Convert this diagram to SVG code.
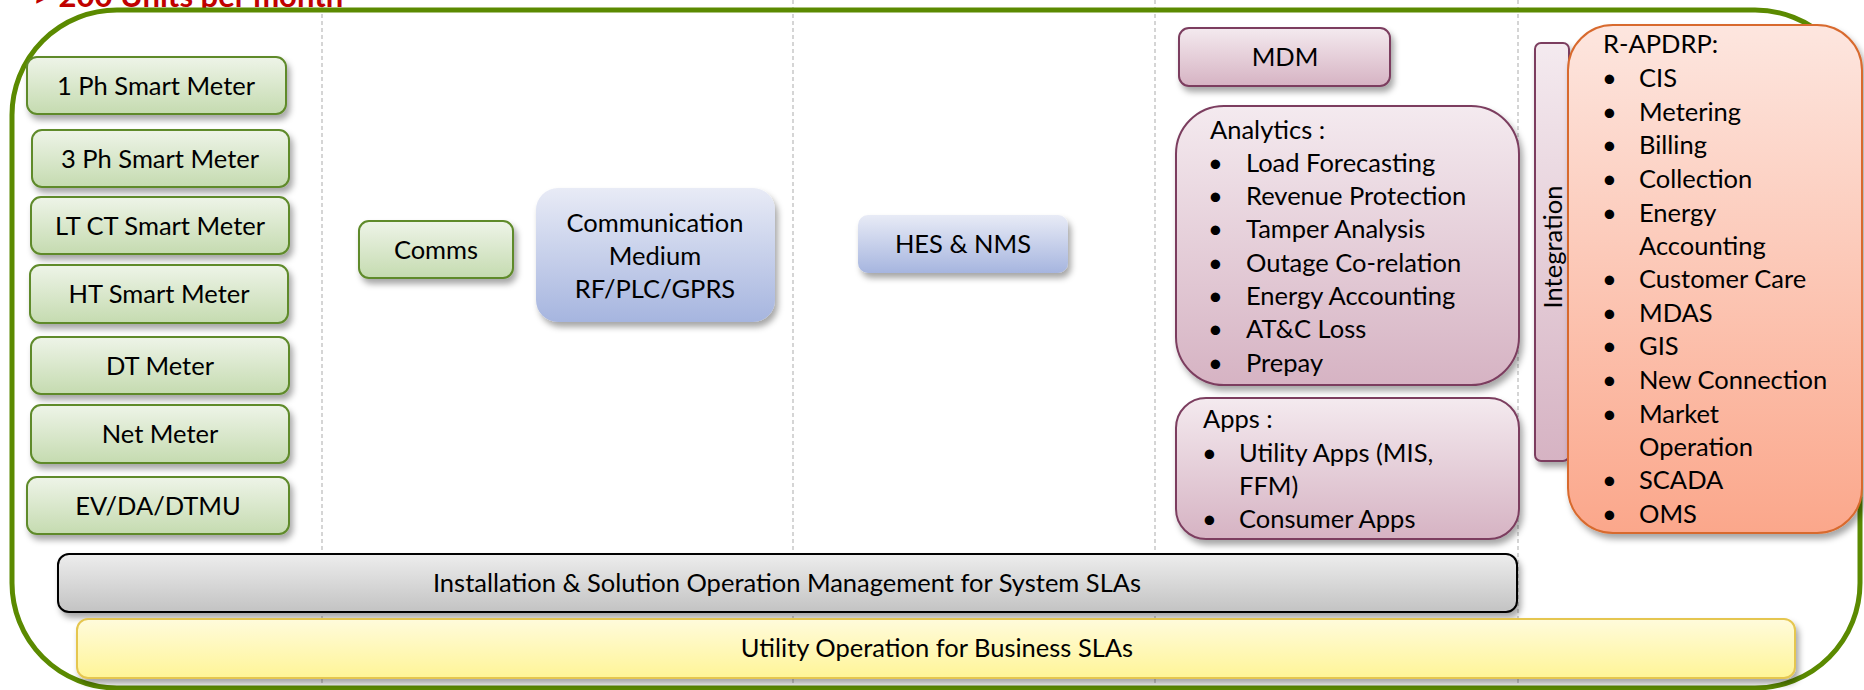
<svg xmlns="http://www.w3.org/2000/svg" width="1864" height="690" viewBox="0 0 1864 690">
<defs>
<linearGradient id="gGreen" x1="0" y1="0" x2="0" y2="1"><stop offset="0" stop-color="#eef4e8"/><stop offset="1" stop-color="#c5dbb0"/></linearGradient>
<linearGradient id="gBlue" x1="0" y1="0" x2="0" y2="1"><stop offset="0" stop-color="#e8ebf6"/><stop offset="1" stop-color="#a6b5df"/></linearGradient>
<linearGradient id="gPurple" x1="0" y1="0" x2="0" y2="1"><stop offset="0" stop-color="#f4eaef"/><stop offset="1" stop-color="#d6b3c3"/></linearGradient>
<linearGradient id="gOrange" x1="0" y1="0" x2="0" y2="1"><stop offset="0" stop-color="#fde6df"/><stop offset="1" stop-color="#fba78b"/></linearGradient>
<linearGradient id="gGrey" x1="0" y1="0" x2="0" y2="1"><stop offset="0" stop-color="#ededed"/><stop offset="1" stop-color="#c3c3c3"/></linearGradient>
<linearGradient id="gYellow" x1="0" y1="0" x2="0" y2="1"><stop offset="0" stop-color="#fffbdc"/><stop offset="1" stop-color="#fff597"/></linearGradient>
<filter id="sh" x="-10%" y="-10%" width="130%" height="140%"><feDropShadow dx="3" dy="5" stdDeviation="3" flood-color="#000" flood-opacity="0.35"/></filter>
</defs>
<style>
text{font-family:Lato,"Liberation Sans",sans-serif;font-size:25.5px;fill:#000}
.c{text-anchor:middle}
.green{fill:url(#gGreen);stroke:#5e8a2a;stroke-width:2}
.blue{fill:url(#gBlue);stroke:none}
.purple{fill:url(#gPurple);stroke:#7b3e5f;stroke-width:2}
.orange{fill:url(#gOrange);stroke:#d86a2e;stroke-width:2}
.grey{fill:url(#gGrey);stroke:#000;stroke-width:2}
.yellow{fill:url(#gYellow);stroke:#e5c650;stroke-width:2}
.sep{stroke:#c8c8c8;stroke-width:1.5;stroke-dasharray:4 3;fill:none}
.title{font-weight:bold;fill:#c00000;font-size:31px}
</style>
<rect width="1864" height="690" fill="#fff"/>
<g id="separators">
<line class="sep" x1="322" y1="0" x2="322" y2="690"/>
<line class="sep" x1="793" y1="0" x2="793" y2="690"/>
<line class="sep" x1="1155" y1="0" x2="1155" y2="690"/>
<line class="sep" x1="1518" y1="0" x2="1518" y2="690"/>
</g>
<text class="title" x="33" y="7">&gt; 200 Units per month</text>
<g id="frame"><rect x="12" y="10" width="1848" height="678" rx="105" fill="none" stroke="#5b8a00" stroke-width="5"/></g>
<g id="meter1"><rect class="green" filter="url(#sh)" x="27" y="57" width="259" height="57" rx="10"/><text class="c" x="156" y="95">1 Ph Smart Meter</text></g>
<g id="meter3"><rect class="green" filter="url(#sh)" x="32" y="130" width="257" height="57" rx="10"/><text class="c" x="160" y="168">3 Ph Smart Meter</text></g>
<g id="ltct"><rect class="green" filter="url(#sh)" x="31" y="197" width="258" height="57" rx="10"/><text class="c" x="160" y="235">LT CT Smart Meter</text></g>
<g id="ht"><rect class="green" filter="url(#sh)" x="30" y="265" width="258" height="58" rx="10"/><text class="c" x="159" y="303">HT Smart Meter</text></g>
<g id="dt"><rect class="green" filter="url(#sh)" x="31" y="337" width="258" height="57" rx="10"/><text class="c" x="160" y="375">DT Meter</text></g>
<g id="net"><rect class="green" filter="url(#sh)" x="31" y="405" width="258" height="58" rx="10"/><text class="c" x="160" y="443">Net Meter</text></g>
<g id="ev"><rect class="green" filter="url(#sh)" x="27" y="477" width="262" height="57" rx="10"/><text class="c" x="158" y="515">EV/DA/DTMU</text></g>
<g id="comms"><rect class="green" filter="url(#sh)" x="359" y="221" width="154" height="57" rx="10"/><text class="c" x="436" y="259">Comms</text></g>
<g id="medium"><rect class="blue" filter="url(#sh)" x="536" y="188" width="239" height="134" rx="22"/><text class="c" x="655" y="232">Communication</text><text class="c" x="655" y="265">Medium</text><text class="c" x="655" y="298">RF/PLC/GPRS</text></g>
<g id="hes"><rect class="blue" filter="url(#sh)" x="858" y="215" width="210" height="58" rx="10"/><text class="c" x="963" y="253">HES &amp; NMS</text></g>
<g id="mdm"><rect class="purple" filter="url(#sh)" x="1179" y="28" width="211" height="58" rx="10"/><text class="c" x="1285" y="66">MDM</text></g>
<g id="analytics"><rect class="purple" filter="url(#sh)" x="1176" y="106" width="343" height="279" rx="48"/>
<text x="1210" y="139">Analytics :</text>
<text x="1208" y="172">•</text><text x="1246" y="172">Load Forecasting</text>
<text x="1208" y="205">•</text><text x="1246" y="205">Revenue Protection</text>
<text x="1208" y="238">•</text><text x="1246" y="238">Tamper Analysis</text>
<text x="1208" y="272">•</text><text x="1246" y="272">Outage Co-relation</text>
<text x="1208" y="305">•</text><text x="1246" y="305">Energy Accounting</text>
<text x="1208" y="338">•</text><text x="1246" y="338">AT&amp;C Loss</text>
<text x="1208" y="372">•</text><text x="1246" y="372">Prepay</text>
</g>
<g id="apps"><rect class="purple" filter="url(#sh)" x="1176" y="398" width="343" height="141" rx="30"/>
<text x="1203" y="428">Apps :</text>
<text x="1202" y="462">•</text><text x="1239" y="462">Utility Apps (MIS,</text>
<text x="1239" y="495">FFM)</text>
<text x="1202" y="528">•</text><text x="1239" y="528">Consumer Apps</text>
</g>
<g id="integration"><rect class="purple" filter="url(#sh)" x="1535" y="43" width="34" height="418" rx="6"/><text class="c" transform="translate(1562 247) rotate(-90)">Integration</text></g>
<g id="rapdrp"><rect class="orange" filter="url(#sh)" x="1568" y="25" width="294" height="508" rx="45"/>
<text x="1603" y="53">R-APDRP:</text>
<text x="1602" y="87">•</text><text x="1639" y="87">CIS</text>
<text x="1602" y="121">•</text><text x="1639" y="121">Metering</text>
<text x="1602" y="154">•</text><text x="1639" y="154">Billing</text>
<text x="1602" y="188">•</text><text x="1639" y="188">Collection</text>
<text x="1602" y="222">•</text><text x="1639" y="222">Energy</text>
<text x="1639" y="255">Accounting</text>
<text x="1602" y="288">•</text><text x="1639" y="288">Customer Care</text>
<text x="1602" y="322">•</text><text x="1639" y="322">MDAS</text>
<text x="1602" y="355">•</text><text x="1639" y="355">GIS</text>
<text x="1602" y="389">•</text><text x="1639" y="389">New Connection</text>
<text x="1602" y="423">•</text><text x="1639" y="423">Market</text>
<text x="1639" y="456">Operation</text>
<text x="1602" y="489">•</text><text x="1639" y="489">SCADA</text>
<text x="1602" y="523">•</text><text x="1639" y="523">OMS</text>
</g>
<g id="installation"><rect class="grey" filter="url(#sh)" x="58" y="554" width="1459" height="58" rx="11"/><text class="c" x="787" y="592">Installation &amp; Solution Operation Management for System SLAs</text></g>
<g id="utility"><rect class="yellow" filter="url(#sh)" x="77" y="619" width="1718" height="59" rx="11"/><text class="c" x="937" y="657">Utility Operation for Business SLAs</text></g>
<g id="connectors"></g>
</svg>
